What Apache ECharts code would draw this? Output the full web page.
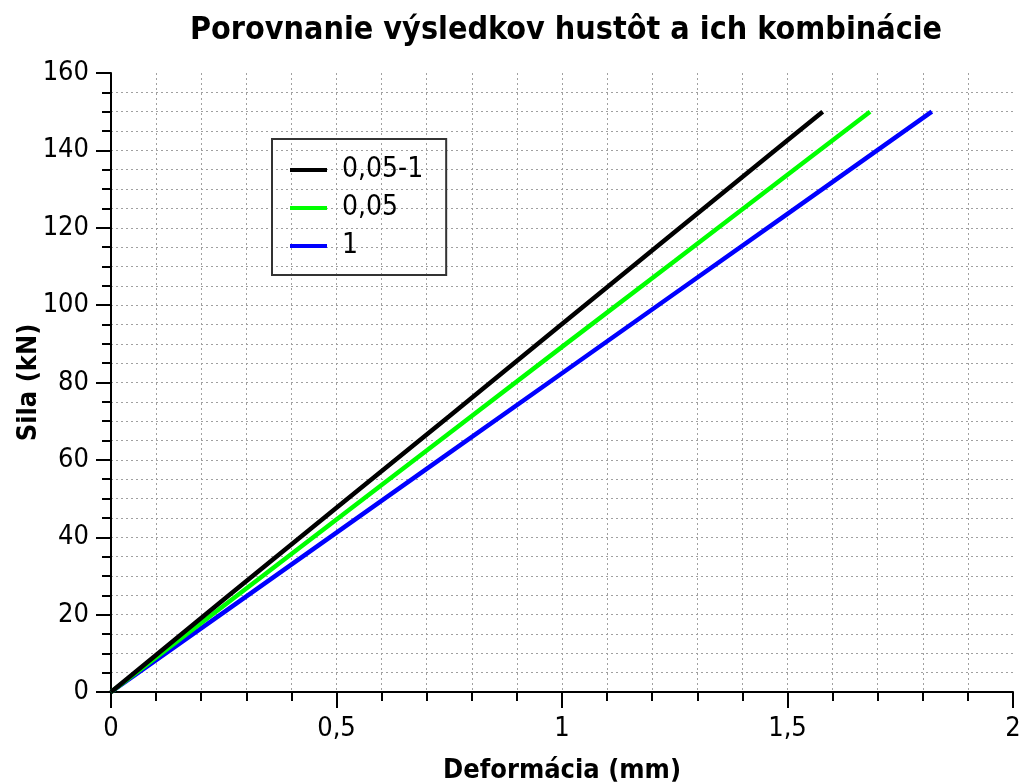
<!DOCTYPE html>
<html>
<head>
<meta charset="utf-8">
<script src="https://cdn.jsdelivr.net/npm/echarts@6/dist/echarts.min.js"></script>
<style>
  html, body { margin: 0; padding: 0; background: #fff; }
  #chart { width: 1023px; height: 784px; }
</style>
</head>
<body>
<div id="chart"></div>
<script>
// Deformation (mm) vs. force (kN) for each mesh density and the combination
const seriesNames = ['0,05-1', '0,05', '1'];
const seriesColors = ['#000000', '#00ff00', '#0000ff'];

const dataComb = [[0, 0], [0.25, 23.9], [0.5, 47.6], [0.75, 71.3], [1, 95.1], [1.25, 118.9], [1.5, 142.6], [1.578, 150]];
const data005 = [[0, 0], [0.25, 22.3], [0.5, 44.6], [0.75, 66.9], [1, 89.2], [1.25, 111.4], [1.5, 133.7], [1.683, 150]];
const data1 = [[0, 0], [0.25, 20.6], [0.5, 41.2], [0.75, 61.8], [1, 82.4], [1.25, 103.0], [1.5, 123.6], [1.82, 150]];

const xTickLabels = { 0: '0', 0.5: '0,5', 1: '1', 1.5: '1,5', 2: '2' };
const yTickLabels = [0, 20, 40, 60, 80, 100, 120, 140, 160];

const FONT = '"DejaVu Sans Condensed", "DejaVu Sans", sans-serif';
const gridLine = { show: true, lineStyle: { color: '#a0a0a0', width: 1, type: [2, 3] } };

const chart = echarts.init(document.getElementById('chart'), null, { renderer: 'canvas' });
chart.setOption({
  animation: false,
  backgroundColor: '#fff',
  title: {
    text: 'Porovnanie výsledkov hustôt a ich kombinácie',
    left: 561,
    textAlign: 'center',
    top: 10,
    textStyle: { fontFamily: FONT, fontSize: 32, fontWeight: 'bold', color: '#000' }
  },
  legend: {
    orient: 'vertical',
    left: 272,
    top: 139,
    padding: [17, 23, 15, 18],
    borderColor: '#333',
    borderWidth: 2,
    itemWidth: 37,
    itemHeight: 4,
    itemGap: 10,
    icon: 'rect',
    textStyle: { fontFamily: FONT, fontSize: 28, color: '#000', padding: [0, 0, 0, 10] },
    data: seriesNames
  },
  grid: { left: 111, right: 10, top: 73, bottom: 92, containLabel: false, outerBoundsMode: 'none' },
  xAxis: {
    type: 'value',
    min: 0, max: 2, interval: 0.5,
    name: 'Deformácia (mm)',
    nameLocation: 'middle',
    nameGap: 65,
    nameMoveOverlap: false,
    nameTextStyle: { fontFamily: FONT, fontSize: 27, fontWeight: 'bold', color: '#000' },
    axisLine: { show: true, lineStyle: { color: '#000', width: 2 } },
    axisTick: { show: true, length: 16, lineStyle: { color: '#000', width: 2 } },
    minorTick: { show: true, splitNumber: 5, length: 9, lineStyle: { color: '#000', width: 2 } },
    axisLabel: {
      fontFamily: FONT, fontSize: 27, color: '#000', margin: 23,
      formatter: v => xTickLabels[v] !== undefined ? xTickLabels[v] : String(v).replace('.', ',')
    },
    splitLine: Object.assign({ showMinLine: false, showMaxLine: false }, gridLine),
    minorSplitLine: gridLine
  },
  yAxis: {
    type: 'value',
    min: 0, max: 160, interval: 20,
    name: 'Sila (kN)',
    nameLocation: 'middle',
    nameGap: 69,
    nameMoveOverlap: false,
    nameTextStyle: { fontFamily: FONT, fontSize: 27, fontWeight: 'bold', color: '#000' },
    axisLine: { show: true, lineStyle: { color: '#000', width: 2 } },
    axisTick: { show: true, length: 15, lineStyle: { color: '#000', width: 2 } },
    minorTick: { show: true, splitNumber: 4, length: 9, lineStyle: { color: '#000', width: 2 } },
    axisLabel: {
      fontFamily: FONT, fontSize: 27, color: '#000', margin: 22,
      formatter: v => yTickLabels.includes(v) ? String(v) : ''
    },
    splitLine: Object.assign({ showMinLine: false, showMaxLine: false }, gridLine),
    minorSplitLine: gridLine
  },
  series: [
    { name: seriesNames[0], type: 'line', data: dataComb, showSymbol: false, color: seriesColors[0], lineStyle: { width: 4.5, color: seriesColors[0] }, z: 4 },
    { name: seriesNames[1], type: 'line', data: data005, showSymbol: false, color: seriesColors[1], lineStyle: { width: 4.5, color: seriesColors[1] }, z: 3 },
    { name: seriesNames[2], type: 'line', data: data1, showSymbol: false, color: seriesColors[2], lineStyle: { width: 4.5, color: seriesColors[2] }, z: 2 }
  ]
});
</script>
</body>
</html>
